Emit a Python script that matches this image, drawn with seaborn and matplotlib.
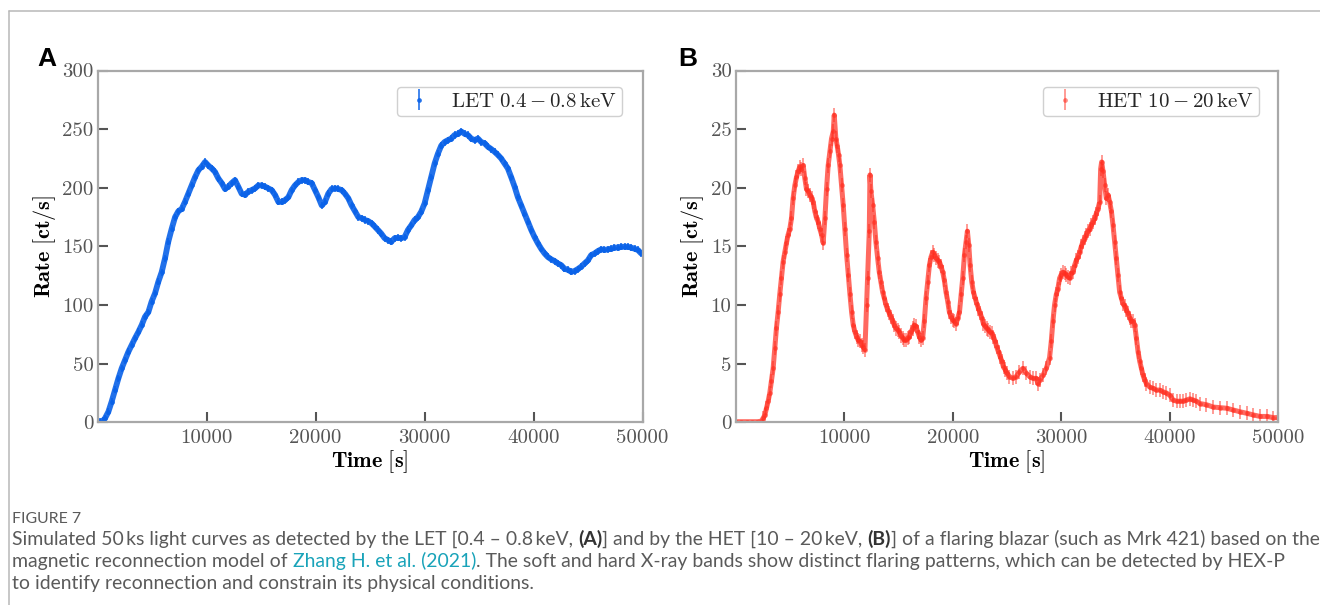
import matplotlib
matplotlib.use("Agg")
import matplotlib.pyplot as plt
import seaborn as sns
from matplotlib.lines import Line2D

# ---------------- data ----------------
LET_TIME = [0, 250, 500, 670, 980, 1280, 1590, 1900, 2200, 2500, 2810, 3120, 3420, 3730,
            4040, 4340, 4650, 4950, 5260, 5570, 5870, 6180, 6480, 6790, 7100, 7400, 7710,
            8010, 8320, 8620, 8930, 9240, 9540, 9850, 10150, 10460, 10760, 11070, 11380,
            11680, 11990, 12290, 12600, 12900, 13210, 13520, 13820, 14130, 14440, 14740,
            15050, 15350, 15660, 15970, 16270, 16580, 16880, 17190, 17500, 17800, 18100,
            18420, 18720, 19030, 19330, 19640, 19940, 20250, 20560, 20860, 21160, 21470,
            21780, 22080, 22390, 22690, 23000, 23300, 23610, 23920, 24220, 24530, 24830,
            25140, 25440, 25720, 26020, 26330, 26640, 26940, 27250, 27550, 27860, 28170,
            28470, 28780, 29080, 29390, 29690, 30000, 30310, 30610, 30920, 31220, 31530,
            31830, 32140, 32450, 32750, 33060, 33360, 33670, 33970, 34280, 34590, 34890,
            35200, 35500, 35810, 36120, 36420, 36730, 37030, 37340, 37640, 37950, 38260,
            38560, 38870, 39170, 39480, 39790, 40090, 40400, 40700, 41010, 41310, 41620,
            41930, 42230, 42540, 42840, 43150, 43460, 43760, 44070, 44370, 44680, 44980,
            45290, 45600, 45900, 46210, 46510, 46820, 47130, 47430, 47740, 48040, 48350,
            48650, 48960, 49270, 49570, 49880]
LET_RATE = [0.5, 0.6, 1.5, 3.4, 9.0, 17.6, 27.6, 37.5, 46.0, 53.0, 60.0, 66.0, 71.6, 77.0,
            83.0, 90.0, 94.0, 103.0, 110.0, 120.0, 128.0, 140.0, 154.0, 165.0, 175.0, 180.0, 182.0,
            188.0, 195.0, 202.0, 209.0, 215.0, 218.0, 222.0, 219.0, 216.5, 213.6, 208.0, 204.0,
            199.0, 201.0, 204.0, 206.5, 201.0, 195.0, 194.0, 196.6, 198.0, 199.5, 202.0,
            202.0, 201.0, 199.5, 198.0, 194.0, 188.0, 188.0, 189.5, 192.0, 198.0, 202.0,
            205.0, 206.5, 206.5, 205.0, 204.0, 198.0, 192.0, 185.0, 188.0, 195.0, 199.0,
            199.5, 199.0, 198.0, 195.0, 191.0, 185.0, 180.0, 175.0, 174.0, 172.5, 171.6,
            169.6, 166.8, 164.0, 161.0, 157.0, 155.4, 154.0, 157.0, 157.4, 157.0, 158.0,
            164.0, 168.0, 172.5, 175.0, 179.6, 186.6, 198.0, 209.0, 220.7, 229.0, 236.0,
            239.0, 240.6, 242.0, 245.0, 246.0, 248.0, 246.0, 245.0, 242.0, 240.6, 242.0,
            239.0, 238.0, 235.0, 233.0, 230.7, 228.0, 225.0, 220.7, 216.5, 209.0, 201.0,
            192.0, 185.0, 178.0, 171.0, 164.0, 158.0, 152.6, 148.0, 144.0, 141.0, 139.0,
            137.5, 135.5, 134.0, 131.0, 130.0, 128.4, 129.0, 130.7, 132.7, 135.5, 138.0,
            142.6, 144.0, 146.0, 147.5, 147.0, 147.5, 148.0, 149.0, 149.0, 149.7, 149.7,
            149.7, 149.0, 148.0, 147.0, 144.0]
LET_ERR = 3.0

HET_TIME = [0, 500, 1000, 1500, 2000, 2370, 2520, 2680, 2830, 2990, 3140, 3290, 3450, 3600,
            3750, 3910, 4060, 4220, 4370, 4520, 4680, 4830, 4990, 5140, 5290, 5450, 5600,
            5750, 5910, 6060, 6220, 6370, 6520, 6680, 6830, 6990, 7140, 7290, 7450, 7600,
            7750, 7910, 8060, 8220, 8370, 8520, 8680, 8830, 8990, 9080, 9230, 9350, 9480,
            9600, 9750, 9910, 10060, 10220, 10370, 10530, 10680, 10830, 10990, 11140, 11290,
            11450, 11600, 11760, 11910, 12060, 12150, 12310, 12370, 12460, 12620, 12770,
            12920, 13080, 13230, 13380, 13540, 13690, 13850, 14000, 14150, 14310, 14460,
            14620, 14770, 14920, 15080, 15230, 15390, 15540, 15690, 15850, 16000, 16150,
            16310, 16460, 16620, 16770, 16920, 17080, 17230, 17380, 17540, 17690, 17850,
            18000, 18150, 18310, 18460, 18620, 18770, 18920, 19080, 19230, 19380, 19540,
            19690, 19850, 20000, 20150, 20310, 20460, 20620, 20770, 20920, 21080, 21230,
            21350, 21480, 21600, 21750, 21910, 22060, 22220, 22370, 22520, 22680, 22830,
            22990, 23140, 23290, 23450, 23600, 23750, 23910, 24060, 24220, 24370, 24530,
            24680, 24830, 24990, 25230, 25540, 25850, 26150, 26460, 26770, 27080, 27380,
            27690, 27850, 28000, 28310, 28620, 28920, 29080, 29230, 29380, 29540, 29690,
            29850, 30000, 30150, 30310, 30460, 30620, 30770, 30920, 31080, 31230, 31380,
            31540, 31690, 31850, 32000, 32150, 32310, 32460, 32620, 32770, 32920, 33080,
            33230, 33380, 33540, 33630, 33720, 33850, 34000, 34150, 34310, 34460, 34620,
            34770, 34920, 35080, 35230, 35380, 35540, 35690, 35850, 36000, 36150, 36310,
            36460, 36620, 36770, 36920, 37080, 37230, 37380, 37540, 37690, 37850, 38150,
            38460, 38770, 39080, 39380, 39690, 40000, 40310, 40620, 40920, 41230, 41540,
            41850, 42150, 42460, 42770, 43380, 44000, 44620, 45230, 45850, 46460, 47080,
            47690, 48310, 48920, 49540, 50000]
HET_RATE = [0.05, 0.05, 0.05, 0.05, 0.05, 0.1, 0.34, 0.6, 1.2, 1.8, 2.5, 3.5, 4.6, 6.3,
            8.0, 9.4, 10.9, 12.3, 13.7, 14.5, 15.3, 16.0, 16.5, 17.4, 19.1, 20.2, 20.9,
            21.4, 21.8, 21.6, 21.9, 20.8, 19.9, 19.7, 19.4, 19.1, 18.8, 18.0, 17.4, 17.1,
            16.5, 16.0, 15.3, 17.4, 19.9, 21.9, 23.1, 24.2, 24.8, 26.2, 24.2, 23.6, 22.8,
            21.9, 20.2, 18.5, 16.5, 14.3, 12.6, 10.9, 9.4, 8.3, 7.7, 7.3, 7.0,
            6.9, 6.6, 6.4, 6.2, 10.0, 12.3, 16.3, 21.1, 19.7, 18.5, 17.1,
            15.4, 14.0, 12.8, 12.0, 11.1, 10.6, 10.0, 9.6, 9.3, 9.0, 8.6,
            8.3, 8.0, 7.9, 7.7, 7.4, 7.2, 7.0, 7.0, 7.2, 7.3, 7.7,
            8.0, 8.3, 8.2, 7.7, 7.3, 7.0, 7.2, 8.6, 10.6, 12.0, 13.4,
            14.1, 14.5, 14.3, 14.0, 13.8, 13.7, 13.3, 12.8, 12.1, 11.1, 10.3,
            9.4, 9.0, 8.7, 8.6, 8.4, 8.9, 9.4, 10.9, 12.3, 14.3, 15.4,
            16.3, 15.1, 13.4, 12.0, 11.1, 10.6, 10.1, 9.7, 9.3, 8.9, 8.4,
            8.2, 8.0, 7.9, 7.7, 7.6, 7.3, 6.9, 6.4, 6.0, 5.6, 5.2,
            4.7, 4.5, 4.2, 3.9, 3.75, 3.9, 4.3, 4.6, 4.2, 3.9, 3.75,
            3.75, 3.3, 3.6, 4.0, 4.6, 5.5, 6.9, 8.6, 10.0, 10.9, 11.4,
            12.3, 12.6, 12.8, 12.7, 12.6, 12.4, 12.3, 12.7, 12.8, 13.4, 13.8,
            14.1, 14.5, 15.0, 15.4, 15.7, 16.0, 16.3, 16.5, 16.8, 17.1, 17.4,
            17.8, 18.2, 18.8, 21.6, 22.2, 21.4, 20.2, 19.1, 19.4, 18.8, 18.0,
            16.8, 15.4, 14.0, 12.6, 11.1, 10.6, 10.1, 9.9, 9.6, 9.3, 8.9,
            8.6, 8.6, 8.3, 7.2, 6.0, 5.2, 4.6, 4.0, 3.6, 3.3, 3.0,
            2.9, 2.75, 2.75, 2.6, 2.5, 2.3, 1.9, 1.8, 1.8, 1.8, 1.9,
            2.0, 1.9, 1.8, 1.6, 1.5, 1.3, 1.25, 1.2, 1.05, 0.9, 0.77,
            0.63, 0.5, 0.5, 0.4, 0.4]
HET_ERR = 0.6

XTICKS = [10000, 20000, 30000, 40000, 50000]
LET_YTICKS = [0, 50, 100, 150, 200, 250, 300]
HET_YTICKS = [0, 5, 10, 15, 20, 25, 30]
LET_LABEL = r"$\mathrm{LET\ 0.4-0.8\,keV}$"
HET_LABEL = r"$\mathrm{HET\ 10-20\,keV}$"
XLABEL = r"$\mathbf{Time\ [s]}$"
YLABEL = r"$\mathbf{Rate\ [ct/s]}$"

FIG_LABEL = "FIGURE 7"
CAP_L1 = [("Simulated 50\u2009ks light curves as detected by the LET [0.4 \u2013 0.8\u2009keV, ", "n"),
          ("(A)", "b"),
          ("] and by the HET [10 \u2013 20\u2009keV, ", "n"),
          ("(B)", "b"),
          ("] of a flaring blazar (such as Mrk 421) based on the", "n")]
CAP_L2 = [("magnetic reconnection model of ", "n"),
          ("Zhang H. et al. (2021)", "l"),
          (". The soft and hard X-ray bands show distinct flaring patterns, which can be detected by HEX-P", "n")]
CAP_L3 = [("to identify reconnection and constrain its physical conditions.", "n")]

# ---------------- style ----------------
sns.set_theme(style="ticks")
plt.rcParams.update({
    "font.family": ["cmr10", "DejaVu Sans"],
    "mathtext.fontset": "cm",
    "axes.formatter.use_mathtext": True,
    "axes.unicode_minus": False,
})

W, H = 1320, 605
fig = plt.figure(figsize=(W / 100, H / 100), dpi=100)
fig.patch.set_facecolor("white")

axA = fig.add_axes([97.7 / W, 1 - 422.3 / H, 544.8 / W, 351.8 / H])
axB = fig.add_axes([735.7 / W, 1 - 422.3 / H, 542.6 / W, 351.8 / H])

BLUE = "#0a62e8"
RED = "#ff2a1c"


def draw(ax, t, r, err, color, label, lw, line_alpha, pt_alpha, ms):
    sns.lineplot(x=t, y=r, ax=ax, color=color, lw=lw, alpha=line_alpha,
                 legend=False, sort=False, estimator=None)
    yerr = [err if v > 0.2 else 0.0 for v in r]
    ax.errorbar(t, r, yerr=yerr, fmt="o", ms=ms, mew=0, color=color,
                ecolor=color, elinewidth=1.2, alpha=pt_alpha, label=label)


draw(axA, LET_TIME, LET_RATE, LET_ERR, BLUE, LET_LABEL, 4.2, 0.9, 0.9, 3.4)
draw(axB, HET_TIME, HET_RATE, HET_ERR, RED, HET_LABEL, 3.6, 0.7, 0.55, 3.4)


def style(ax, yticks, legx):
    ax.set_xlim(0, 50000)
    ax.set_ylim(yticks[0], yticks[-1])
    ax.set_xticks(XTICKS)
    ax.set_xticklabels([str(v) for v in XTICKS])
    ax.set_yticks(yticks)
    ax.set_yticklabels([str(v) for v in yticks])
    ax.tick_params(direction="in", length=7.5, width=1.5, color="#555555",
                   labelcolor="#555555", labelsize=15, top=False, right=False)
    ax.tick_params(axis="x", pad=5)
    ax.tick_params(axis="y", pad=3)
    for s in ax.spines.values():
        s.set_visible(True)
        s.set_color("#a8a8a8")
        s.set_linewidth(1.6)
    ax.set_xlabel(XLABEL, fontsize=16, labelpad=1, color="black")
    ax.set_ylabel(YLABEL, fontsize=16, labelpad=3, color="black")
    ax.grid(False)
    leg = ax.legend(loc="upper right", bbox_to_anchor=(legx, 0.953), borderaxespad=0,
                    fontsize=15, frameon=True, fancybox=True, framealpha=1,
                    edgecolor="#d0d0d0", handlelength=1.6, handletextpad=0.75,
                    borderpad=0.25)
    leg.get_frame().set_linewidth(1.0)


style(axA, LET_YTICKS, 0.9624)
style(axB, HET_YTICKS, 0.9644)

# panel letters
fig.text(37 / W, 1 - 66 / H, "A", family="Liberation Sans", weight="bold", fontsize=19, color="black")
fig.text(678 / W, 1 - 66 / H, "B", family="Liberation Sans", weight="bold", fontsize=19, color="black")

# page frame lines
fig.add_artist(Line2D([8.5 / W, 1], [1 - 11 / H, 1 - 11 / H], transform=fig.transFigure,
                      color="#b8b8b8", lw=1.1))
fig.add_artist(Line2D([8.5 / W, 8.5 / W], [0, 1 - 11 / H], transform=fig.transFigure,
                      color="#b8b8b8", lw=1.1))

# caption
renderer = fig.canvas.get_renderer()
CAP_FAMILY = ["Lato", "DejaVu Sans"]
CAP_COLOR = "#5a5a5a"
STYLES = {"n": dict(color=CAP_COLOR), "b": dict(color="#333333", weight="bold"),
          "l": dict(color="#19a3b9")}


def text_w(s, **kw):
    t1 = fig.text(0, 0, s + "|", **kw)
    t2 = fig.text(0, 0, "|", **kw)
    w = t1.get_window_extent(renderer).width - t2.get_window_extent(renderer).width
    t1.remove()
    t2.remove()
    return w


def line_w(segs, size):
    return sum(text_w(s, family=CAP_FAMILY, fontsize=size, **STYLES[k]) for s, k in segs)


cap_size = 10 * 1303 / line_w(CAP_L1, 10)

fig.text(12 / W, 1 - 523 / H, FIG_LABEL, family=CAP_FAMILY, fontsize=cap_size * 0.82,
         color=CAP_COLOR, va="baseline")


def draw_line(segs, ybase):
    x = 12.0
    for s, k in segs:
        kw = dict(family=CAP_FAMILY, fontsize=cap_size, **STYLES[k])
        fig.text(x / W, 1 - ybase / H, s, va="baseline", ha="left", **kw)
        x += text_w(s, **kw)


draw_line(CAP_L1, 545)
draw_line(CAP_L2, 567)
draw_line(CAP_L3, 589)

fig.savefig("out.png", dpi=100)
